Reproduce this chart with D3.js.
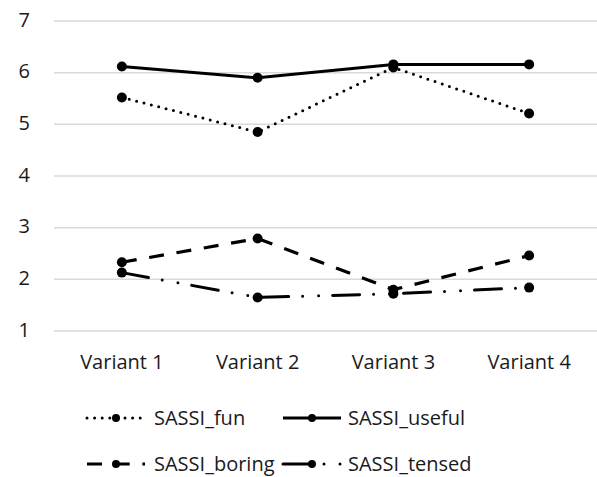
<!DOCTYPE html>
<html>
<head>
<meta charset="utf-8">
<script src="https://cdn.jsdelivr.net/npm/d3@7"></script>
<style>
  body { margin: 0; background: #fff; }
  text { font-family: "Open Sans", "Noto Sans", sans-serif; fill: #1a1a1a; }
</style>
</head>
<body>
<svg id="chart" width="597" height="477"></svg>
<script>
const variants = ["Variant 1", "Variant 2", "Variant 3", "Variant 4"];
const yTicks = [1, 2, 3, 4, 5, 6, 7];

const sassiFun = [5.52, 4.85, 6.1, 5.21];
const sassiUseful = [6.12, 5.9, 6.16, 6.16];
const sassiBoring = [2.33, 2.79, 1.8, 2.46];
const sassiTensed = [2.13, 1.65, 1.72, 1.84];

const seriesNames = ["SASSI_fun", "SASSI_useful", "SASSI_boring", "SASSI_tensed"];

// excel-like line styles
const styles = {
    SASSI_fun: { dash: "0,7.6", width: 3, cap: "round" },
    SASSI_useful: { dash: null, width: 3, cap: "butt" },
    SASSI_boring: { dash: "15,12.7", width: 3.2, cap: "butt" },
    SASSI_tensed: { dash: "27,14,0,16,0,14", width: 3, cap: "round" }
};

const series = [sassiFun, sassiUseful, sassiBoring, sassiTensed].map((vals, i) => ({
    name: seriesNames[i],
    values: vals
}));

const svg = d3.select("#chart"),
    plotLeft = 54,
    plotRight = 597,
    plotTop = 21,
    plotBottom = 331;

const x = d3.scaleBand()
    .domain(variants)
    .range([plotLeft, plotRight]);

const y = d3.scaleLinear()
    .domain([1, 7])
    .range([plotBottom, plotTop]);

// gridlines
svg.append("g")
    .selectAll("line")
    .data(yTicks)
    .enter().append("line")
    .attr("x1", plotLeft)
    .attr("x2", plotRight)
    .attr("y1", d => y(d))
    .attr("y2", d => y(d))
    .attr("stroke", "#d9d9d9")
    .attr("stroke-width", 1.5);

// y labels
svg.append("g")
    .selectAll("text")
    .data(yTicks)
    .enter().append("text")
    .attr("x", 30)
    .attr("y", d => y(d) - 1.5)
    .attr("dy", "0.36em")
    .attr("text-anchor", "end")
    .style("font-size", "20px")
    .text(d => d);

// x labels
svg.append("g")
    .selectAll("text")
    .data(variants)
    .enter().append("text")
    .attr("x", d => x(d) + x.bandwidth() / 2)
    .attr("y", 369)
    .attr("text-anchor", "middle")
    .style("font-size", "20px")
    .text(d => d);

const line = d3.line()
    .x((d, i) => x(variants[i]) + x.bandwidth() / 2)
    .y(d => y(d));

const plot = svg.append("g");

series.forEach(s => {
    const st = styles[s.name];
    plot.append("path")
        .attr("d", line(s.values))
        .attr("fill", "none")
        .attr("stroke", "#000")
        .attr("stroke-width", st.width)
        .attr("stroke-linecap", st.cap)
        .attr("stroke-dasharray", st.dash);
    plot.selectAll(null)
        .data(s.values)
        .enter().append("circle")
        .attr("cx", (d, i) => x(variants[i]) + x.bandwidth() / 2)
        .attr("cy", d => y(d))
        .attr("r", 5)
        .attr("fill", "#000");
});

// legend
const legendPos = [
    { lx: 87, tx: 154, y: 418 },
    { lx: 283, tx: 348, y: 418 },
    { lx: 87, tx: 154, y: 464 },
    { lx: 283, tx: 348, y: 464 }
];

const legend = svg.append("g")
    .selectAll("g")
    .data(series)
    .enter().append("g")
    .attr("transform", (d, i) => "translate(0," + legendPos[i].y + ")");

legend.append("line")
    .attr("x1", (d, i) => legendPos[i].lx)
    .attr("x2", (d, i) => legendPos[i].lx + 58)
    .attr("y1", 0)
    .attr("y2", 0)
    .attr("stroke", "#000")
    .attr("stroke-width", d => styles[d.name].width)
    .attr("stroke-linecap", d => styles[d.name].cap)
    .attr("stroke-dasharray", d => styles[d.name].dash);

legend.append("circle")
    .attr("cx", (d, i) => legendPos[i].lx + 29)
    .attr("cy", 0)
    .attr("r", 4)
    .attr("fill", "#000");

legend.append("text")
    .attr("x", (d, i) => legendPos[i].tx)
    .attr("y", 0)
    .attr("dy", "0.36em")
    .style("font-size", "20px")
    .text(d => d.name);
</script>
</body>
</html>
